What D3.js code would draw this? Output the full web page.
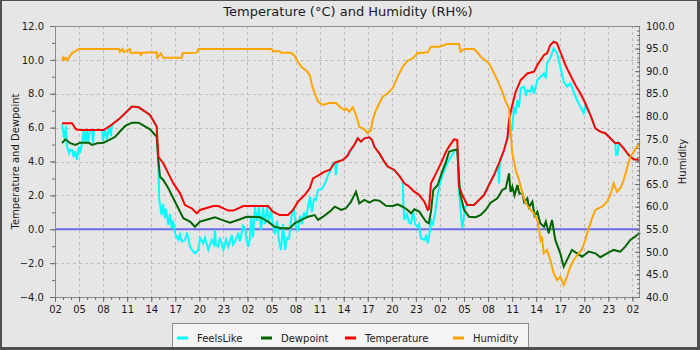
<!DOCTYPE html>
<html><head><meta charset="utf-8">
<script src="https://cdn.jsdelivr.net/npm/d3@7"></script>
<style>
body{margin:0;background:#fff}
svg{display:block;font-family:"DejaVu Sans",sans-serif}
</style>
</head><body>
<svg id="c" width="700" height="350"></svg>
<script>
// ---- data (hours since start, value) ----
const startTime = new Date(2024, 0, 10, 2, 0, 0);
const spanHours = 72.94;
const leftTicks = [-4, -2, 0, 2, 4, 6, 8, 10, 12];
const rightTicks = [40, 45, 50, 55, 60, 65, 70, 75, 80, 85, 90, 95, 100];
const seriesNames = ["FeelsLike", "Dewpoint", "Temperature", "Humidity"];

const temperature = [[0.87,6.26],[2.12,6.26],[2.62,5.9],[3.1,5.86],[6.07,5.86],[6.86,6.1],[8.1,6.55],[9.6,7.24],[10.44,7.2],[11.06,7.0],[11.85,6.75],[12.68,6.06],[12.88,4.28],[13.5,3.9],[14.13,3.3],[14.75,2.71],[15.59,2.12],[16.21,1.43],[17.05,1.24],[17.67,0.94],[18.08,1.14],[19.74,1.37],[20.36,1.37],[21.61,1.1],[22.23,1.1],[23.48,1.37],[26.56,1.37],[27.18,1.04],[28.02,0.84],[29.05,0.84],[29.68,1.14],[30.3,1.63],[31.13,2.02],[31.76,2.42],[32.17,3.0],[32.79,3.16],[33.63,3.4],[34.25,3.5],[34.88,3.93],[35.91,4.09],[36.53,4.38],[36.7,4.58],[37.32,4.98],[37.74,5.37],[38.15,5.17],[38.57,5.37],[39.19,5.43],[39.53,5.27],[39.81,4.88],[40.44,4.48],[41.06,3.99],[41.48,3.7],[42.31,3.5],[42.93,3.15],[43.55,2.71],[44.18,2.51],[44.8,2.22],[45.42,2.02],[46.05,1.63],[46.47,1.14],[46.63,1.2],[46.88,2.71],[47.51,3.3],[48.13,3.9],[48.75,4.58],[49.13,4.88],[49.75,5.31],[50.16,5.27],[50.37,2.51],[50.79,2.02],[51.41,1.43],[52.24,1.43],[52.87,1.73],[53.49,2.02],[54.11,2.61],[54.74,3.2],[55.36,3.9],[55.99,4.68],[56.4,5.37],[56.61,6.45],[57.02,7.34],[57.44,8.12],[58.07,8.81],[58.89,9.2],[59.73,9.3],[60.14,9.7],[60.97,10.29],[61.35,10.39],[61.76,10.88],[62.18,11.07],[62.59,10.98],[63.0,10.48],[63.63,9.7],[64.25,9.11],[64.88,8.52],[65.5,8.03],[66.12,7.44],[66.75,6.75],[67.37,5.96],[67.99,5.76],[68.62,5.67],[69.24,5.37],[69.86,5.08],[70.29,5.11],[70.91,4.78],[71.53,4.38],[72.16,4.13],[72.94,4.09]];

const feelsLike = [[0.87,6.2],[1.12,5.4],[1.37,6.1],[1.5,4.9],[1.75,4.5],[1.9,4.7],[2.12,4.68],[2.33,4.28],[2.49,4.6],[2.74,4.09],[2.96,4.88],[3.12,4.5],[3.37,5.1],[3.58,5.86],[3.74,5.1],[3.99,5.86],[4.11,5.1],[4.36,5.86],[4.61,5.86],[4.74,5.1],[4.86,5.86],[5.86,5.86],[5.99,5.2],[6.23,5.9],[6.48,5.3],[6.73,6.05],[6.98,5.5],[7.11,6.15],[8.1,6.55],[9.6,7.24],[10.44,7.2],[11.06,7.0],[11.85,6.75],[12.68,6.06],[12.88,3.9],[13.0,1.73],[13.3,0.84],[13.47,1.5],[13.72,0.65],[13.84,1.2],[14.13,0.26],[14.34,0.9],[14.55,0.06],[14.71,0.5],[14.96,-0.24],[15.37,-0.63],[15.59,-0.3],[15.8,-0.73],[16.21,-0.63],[16.46,-0.2],[16.83,-1.03],[17.21,-1.3],[17.46,-1.42],[17.87,-1.22],[18.08,-0.5],[18.49,-0.83],[18.7,-0.5],[19.12,-1.22],[19.54,-0.63],[19.83,-0.9],[19.95,-0.04],[20.07,-0.9],[20.36,-1.03],[20.57,-0.5],[20.99,-1.22],[21.32,-0.6],[21.61,-1.03],[22.03,-0.34],[22.19,-0.9],[22.44,-0.73],[22.82,-0.3],[23.07,-0.7],[23.44,0.2],[23.69,0.06],[23.88,-0.6],[24.1,-1.03],[24.31,-0.53],[24.48,0.74],[24.69,-0.5],[24.94,1.3],[25.19,0.5],[25.44,1.3],[25.69,-0.04],[25.94,1.3],[26.18,0.3],[26.43,1.3],[26.68,0.5],[26.93,1.1],[27.18,0.2],[27.43,-0.3],[27.68,0.5],[27.93,-0.7],[28.18,-1.22],[28.43,0.3],[28.68,-1.22],[28.93,-0.5],[29.18,-0.55],[29.43,0.5],[29.55,1.0],[29.8,1.14],[30.05,0.1],[30.3,-0.04],[30.55,0.8],[30.8,0.3],[31.05,1.0],[31.3,0.6],[31.55,1.33],[31.8,1.93],[32.04,1.0],[32.29,1.8],[32.54,1.73],[32.79,2.32],[33.29,2.4],[33.67,2.71],[34.04,3.2],[34.41,3.5],[34.66,3.9],[34.91,3.9],[35.04,3.2],[35.16,3.99],[35.91,4.09],[36.53,4.38],[37.32,4.98],[37.74,5.37],[38.15,5.17],[38.57,5.37],[39.19,5.43],[39.53,5.27],[39.81,4.88],[40.44,4.48],[41.06,3.99],[41.48,3.7],[42.31,3.5],[42.93,3.15],[43.35,2.85],[43.45,1.4],[43.55,0.55],[43.89,0.9],[44.14,0.4],[44.39,0.35],[44.64,1.1],[44.89,0.3],[45.22,0.15],[45.39,0.3],[45.64,-0.53],[46.05,-0.63],[46.26,-0.4],[46.47,-0.83],[46.63,-0.5],[46.88,0.55],[47.13,0.3],[47.38,0.9],[47.72,2.12],[48.13,2.91],[48.54,3.5],[49.13,4.09],[49.75,4.58],[50.16,4.8],[50.37,2.3],[50.59,0.94],[50.79,0.06],[51.0,0.8],[51.13,1.33],[51.41,1.43],[52.24,1.43],[52.87,1.73],[53.49,2.02],[54.11,2.61],[54.74,3.2],[55.24,3.75],[55.36,2.71],[55.49,4.0],[55.99,4.68],[56.4,5.37],[56.61,5.5],[56.82,6.06],[56.98,5.8],[57.23,7.24],[57.42,6.8],[57.65,7.63],[57.86,7.2],[58.07,8.32],[58.48,8.42],[58.73,7.9],[58.89,8.22],[59.31,8.12],[59.48,8.5],[59.73,8.0],[60.14,8.81],[60.56,9.0],[60.97,9.2],[61.22,8.9],[61.35,9.8],[61.76,10.1],[62.18,10.68],[62.59,10.39],[63.0,9.6],[63.43,8.71],[63.84,8.42],[64.25,8.62],[64.66,8.12],[65.09,7.63],[65.5,7.24],[65.92,6.85],[66.12,7.3],[66.75,6.75],[67.37,5.96],[67.99,5.76],[68.62,5.67],[69.24,5.37],[69.86,5.08],[69.95,4.4],[70.14,4.4],[70.29,5.11],[70.91,4.78],[71.53,4.38],[72.16,4.13],[72.94,4.09]];

const dewpoint = [[0.87,5.08],[1.29,5.31],[1.91,5.08],[2.53,4.98],[3.16,5.11],[4.2,5.11],[4.61,4.98],[5.24,5.08],[6.07,5.11],[6.9,5.31],[7.52,5.46],[8.15,5.8],[8.77,6.1],[9.6,6.29],[10.44,6.29],[11.26,6.06],[11.85,5.9],[12.68,5.46],[12.88,4.09],[13.09,3.1],[13.5,2.91],[14.13,2.42],[14.75,1.83],[15.37,1.24],[16.0,0.65],[16.83,0.45],[17.46,0.15],[18.08,0.45],[19.12,0.59],[19.95,0.71],[20.79,0.55],[21.82,0.39],[23.07,0.59],[23.9,0.74],[25.57,0.71],[26.56,0.45],[27.39,0.15],[28.22,0.06],[29.26,0.06],[29.88,0.35],[30.71,0.55],[31.55,0.74],[32.38,0.84],[32.79,0.55],[33.42,0.74],[34.25,1.04],[34.88,1.33],[35.7,1.14],[36.28,1.24],[36.91,1.63],[37.53,2.22],[37.94,1.53],[38.57,1.73],[39.19,1.57],[39.81,1.73],[40.44,1.69],[41.27,1.39],[42.1,1.37],[42.73,1.47],[43.35,1.33],[43.97,1.14],[44.39,0.94],[44.8,1.18],[45.42,1.04],[45.84,0.74],[46.26,0.45],[46.6,0.35],[46.88,1.04],[47.17,2.32],[47.72,2.61],[48.13,3.2],[48.75,3.99],[49.13,4.58],[49.75,4.68],[50.16,4.68],[50.5,2.12],[51.0,1.14],[51.62,0.74],[52.45,0.71],[53.08,0.84],[53.7,1.14],[54.32,1.57],[55.15,1.83],[55.77,2.32],[56.2,2.42],[56.61,3.3],[56.8,2.2],[57.02,2.51],[57.3,2.0],[57.65,2.61],[57.9,2.1],[58.27,2.12],[58.5,1.6],[58.89,1.83],[59.1,1.3],[59.52,1.63],[59.8,0.8],[60.14,1.04],[60.5,0.35],[60.97,0.15],[61.2,0.45],[61.56,-0.24],[61.97,0.55],[62.38,-0.63],[63.0,-1.42],[63.43,-2.21],[63.84,-1.81],[64.46,-1.22],[65.09,-1.42],[65.71,-1.62],[66.54,-1.32],[67.37,-1.42],[67.99,-1.65],[68.83,-1.42],[69.66,-1.22],[70.48,-1.32],[71.1,-1.03],[71.73,-0.63],[72.32,-0.44],[72.94,-0.2]];

const humidity = [[0.87,92.47],[1.0,93.0],[1.1,92.47],[1.3,92.98],[1.5,92.4],[1.7,92.98],[2.12,93.95],[2.95,94.91],[7.98,94.91],[8.1,94.3],[8.4,94.9],[8.6,94.2],[9.36,94.91],[9.4,94.1],[10.6,94.1],[10.7,93.4],[10.8,94.1],[12.68,94.18],[12.75,92.98],[13.2,93.9],[13.5,92.98],[15.8,92.98],[15.9,93.95],[17.67,94.1],[17.87,94.91],[27.0,94.91],[27.2,94.4],[28.0,94.4],[28.2,94.1],[29.46,94.1],[29.88,93.36],[30.3,92.1],[30.71,90.99],[31.34,90.1],[31.76,89.15],[32.04,86.94],[32.38,85.1],[32.79,83.24],[33.42,82.51],[34.25,83.02],[35.08,82.89],[35.7,81.78],[36.12,81.4],[36.28,81.78],[36.7,81.03],[37.12,82.0],[37.53,80.3],[37.94,77.7],[38.57,77.13],[38.99,76.25],[39.4,76.98],[39.61,79.2],[40.02,81.4],[40.44,82.89],[40.86,84.35],[41.48,85.1],[42.1,86.21],[42.73,88.78],[43.35,90.99],[43.97,92.32],[44.6,92.85],[45.22,93.95],[46.47,94.18],[46.88,95.42],[47.9,95.42],[48.92,96.01],[50.37,96.01],[50.58,94.31],[51.0,94.91],[52.24,94.91],[52.66,94.18],[53.08,93.2],[53.49,92.63],[54.11,91.74],[54.53,90.26],[55.15,88.05],[55.77,85.46],[56.2,83.24],[56.61,81.78],[56.82,76.25],[57.02,71.82],[57.44,68.12],[57.86,65.9],[58.27,62.96],[58.69,60.75],[59.31,59.27],[59.73,58.53],[60.14,57.05],[60.56,52.62],[60.72,53.36],[60.93,49.68],[61.35,50.4],[61.76,48.2],[62.18,45.25],[62.59,43.77],[63.0,44.5],[63.43,42.66],[63.84,44.5],[64.25,46.71],[64.67,48.2],[65.3,49.68],[65.71,50.57],[66.12,52.62],[66.54,55.21],[66.96,57.42],[67.37,59.27],[68.2,59.99],[68.83,61.1],[69.24,62.59],[69.66,65.18],[70.07,63.3],[70.49,64.07],[70.91,65.9],[71.32,68.5],[71.73,71.07],[72.16,72.17],[72.57,73.28],[72.94,74.17]];

// ---- layout ----
const W = 700, H = 350;
const M = {left: 55, right: 640, top: 26, bottom: 297};
const colors = {FeelsLike: "#00ffff", Dewpoint: "#006400", Temperature: "#ff0000", Humidity: "#ffa500"};
const toDate = h => new Date(startTime.getTime() + h * 3600e3);

const svg = d3.select("#c");
svg.append("rect").attr("width", W).attr("height", H).attr("fill", "#4f4f4f");
svg.append("rect").attr("x", 2).attr("y", 1).attr("width", W - 5).attr("height", H - 4).attr("fill", "#e6e6e6");

const x = d3.scaleTime().domain([startTime, toDate(spanHours)]).range([M.left, M.right]);
const yL = d3.scaleLinear().domain([-4, 12]).range([M.bottom, M.top]);
const yR = d3.scaleLinear().domain([40, 100]).range([M.bottom, M.top]);

const majorX = d3.range(0, spanHours, 3).map(toDate);
const minorX = d3.range(0, spanHours, 1).map(toDate);

// grid
const grid = svg.append("g").attr("stroke", "#bcbcbc").attr("stroke-width", 1).attr("stroke-dasharray", "3,3");
majorX.slice(1).forEach(d => {
  const px = Math.round(x(d)) + 0.5;
  grid.append("line").attr("x1", px).attr("x2", px).attr("y1", M.top).attr("y2", M.bottom);
});
leftTicks.slice(1, -1).forEach(v => {
  const py = Math.round(yL(v)) + 0.5;
  grid.append("line").attr("x1", M.left).attr("x2", M.right).attr("y1", py).attr("y2", py);
});

// zero line
svg.append("line").attr("x1", M.left).attr("x2", M.right)
  .attr("y1", yL(0)).attr("y2", yL(0)).attr("stroke", "#6b6bea").attr("stroke-width", 2);

// series
const lineL = d3.line().x(d => x(toDate(d[0]))).y(d => yL(d[1]));
const lineR = d3.line().x(d => x(toDate(d[0]))).y(d => yR(d[1]));
const plot = svg.append("g");
[["FeelsLike", feelsLike, lineL], ["Dewpoint", dewpoint, lineL], ["Temperature", temperature, lineL], ["Humidity", humidity, lineR]]
  .forEach(([name, data, gen]) => {
    plot.append("path").datum(data).attr("d", gen).attr("fill", "none")
      .attr("stroke", colors[name]).attr("stroke-width", 2).attr("stroke-linejoin", "miter");
  });

// frame
svg.append("rect").attr("x", M.left + 0.5).attr("y", M.top + 0.5)
  .attr("width", M.right - M.left - 1).attr("height", M.bottom - M.top)
  .attr("fill", "none").attr("stroke", "#8c8c8c").attr("stroke-width", 1);

function styleAxis(g) {
  g.select(".domain").remove();
  g.selectAll(".tick line").attr("stroke", "#6e6e6e");
  g.selectAll(".tick text").attr("fill", "#1a1a1a").style("font-size", "10px").style("font-family", "DejaVu Sans");
}

// bottom axis
svg.append("g").attr("transform", `translate(0,${M.bottom})`)
  .call(d3.axisBottom(x).tickValues(minorX).tickSize(3).tickFormat("").tickSizeOuter(0)).call(styleAxis);
svg.append("g").attr("transform", `translate(0,${M.bottom})`)
  .call(d3.axisBottom(x).tickValues(majorX).tickSize(5).tickPadding(4).tickFormat(d3.timeFormat("%H")).tickSizeOuter(0)).call(styleAxis);

// left axis
svg.append("g").attr("transform", `translate(${M.left},0)`)
  .call(d3.axisLeft(yL).tickValues(d3.range(-4, 12.01, 1)).tickSize(3).tickFormat("").tickSizeOuter(0)).call(styleAxis);
svg.append("g").attr("transform", `translate(${M.left},0)`)
  .call(d3.axisLeft(yL).tickValues(leftTicks).tickSize(5).tickPadding(6).tickFormat(d3.format(".1f")).tickSizeOuter(0)).call(styleAxis);

// right axis (ticks inward)
svg.append("g").attr("transform", `translate(${M.right},0)`)
  .call(d3.axisRight(yR).tickValues(d3.range(40, 100.01, 1)).tickSize(-3).tickFormat("").tickSizeOuter(0)).call(styleAxis);
svg.append("g").attr("transform", `translate(${M.right},0)`)
  .call(d3.axisRight(yR).tickValues(rightTicks).tickSize(-5).tickPadding(6).tickFormat(d3.format(".1f")).tickSizeOuter(0)).call(styleAxis);

// titles
svg.append("text").attr("x", 348).attr("y", 16).attr("text-anchor", "middle")
  .style("font-size", "13px").attr("fill", "#1a1a1a").text("Temperature (°C) and Humidity (RH%)");
svg.append("text").attr("transform", `translate(19,${(M.top + M.bottom) / 2}) rotate(-90)`)
  .attr("text-anchor", "middle").style("font-size", "10px").attr("fill", "#1a1a1a").text("Temperature and Dewpoint");
svg.append("text").attr("transform", `translate(686,${(M.top + M.bottom) / 2}) rotate(-90)`)
  .attr("text-anchor", "middle").style("font-size", "10px").attr("fill", "#1a1a1a").text("Humidity");

// legend
const lg = svg.append("g");
lg.append("rect").attr("x", 172.5).attr("y", 323.5).attr("width", 356).attr("height", 30)
  .attr("fill", "#f4f4f4").attr("stroke", "#8c8c8c");
const legendX = [177, 261, 345, 453];
seriesNames.forEach((name, i) => {
  lg.append("line").attr("x1", legendX[i]).attr("x2", legendX[i] + 11).attr("y1", 338).attr("y2", 338)
    .attr("stroke", colors[name]).attr("stroke-width", 3);
  lg.append("text").attr("x", legendX[i] + 20).attr("y", 341.5).style("font-size", "10px")
    .attr("fill", "#1a1a1a").text(name);
});
// redraw outer border over legend bottom
svg.append("rect").attr("x", 0).attr("y", H - 3).attr("width", W).attr("height", 3).attr("fill", "#4f4f4f");
</script>
</body></html>
